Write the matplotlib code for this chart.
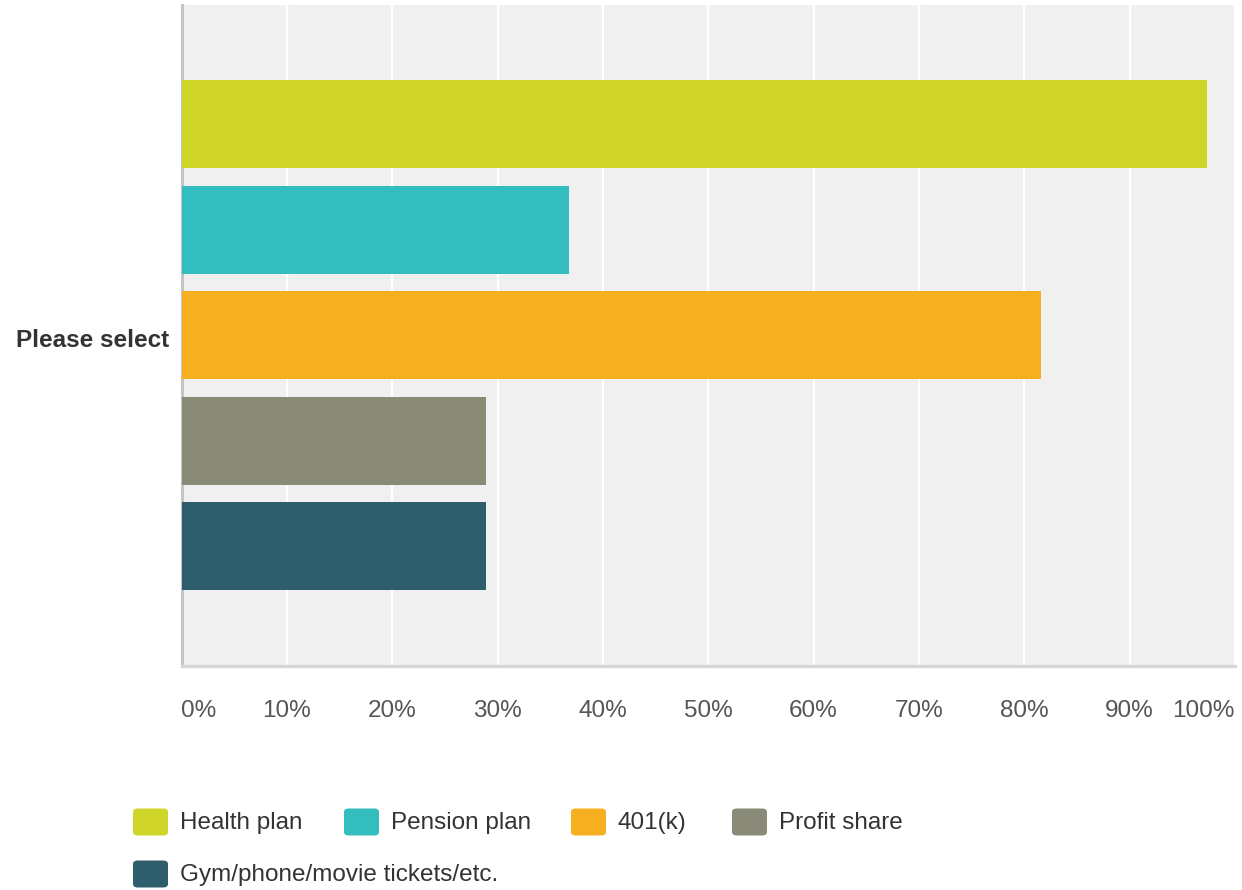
import matplotlib
matplotlib.use("Agg")
import matplotlib.pyplot as plt
from matplotlib.patches import FancyBboxPatch

# ---- data ----
categories = ["Please select"]
series_names = ["Health plan", "Pension plan", "401(k)", "Profit share",
                "Gym/phone/movie tickets/etc."]
series_values = [97.3, 36.8, 81.6, 28.9, 28.9]
series_colors = ["#CFD629", "#33BDBE", "#F6AF1F", "#898A78", "#2E5E6B"]
x_ticks = [0, 10, 20, 30, 40, 50, 60, 70, 80, 90, 100]
x_tick_labels = ["0%", "10%", "20%", "30%", "40%", "50%", "60%", "70%",
                 "80%", "90%", "100%"]

plt.rcParams['font.family'] = ['Liberation Sans', 'DejaVu Sans']

W, H = 1242, 890
fig = plt.figure(figsize=(W / 100, H / 100), dpi=100)
fig.patch.set_facecolor("white")

left_px, right_px, top_px, bottom_px = 181.5, 1235.0, 5.0, 665.5
ax = fig.add_axes([left_px / W, 1 - bottom_px / H,
                   (right_px - left_px) / W, (bottom_px - top_px) / H])
ax.set_facecolor("#F0F0F0")

n = len(series_names)
pitch = 1.0
bar_h = 0.833
for ci, cat in enumerate(categories):
    for i, (name, val, col) in enumerate(zip(series_names, series_values, series_colors)):
        y = ci * 10 + (i - (n - 1) / 2) * pitch
        ax.barh(y, val, height=bar_h, color=col, zorder=3, linewidth=0)

half = (n - 1) / 2 * pitch + bar_h / 2
margin = 0.711
ax.set_ylim(half + margin, -half - margin)
ax.set_xlim(0, 100)

ax.set_xticks(x_ticks)
ax.set_xticklabels(x_tick_labels)
ax.xaxis.grid(True, color="white", linewidth=1.6, zorder=1)
ax.set_axisbelow(True)
ax.tick_params(axis="x", length=0, pad=25, labelsize=17.5, labelcolor="#555555")
labels = ax.get_xticklabels()
labels[0].set_horizontalalignment("left")
labels[-1].set_horizontalalignment("right")

ax.set_yticks([ci * 10 + 0.03 for ci in range(len(categories))])
ax.set_yticklabels(categories)
ax.tick_params(axis="y", length=0, pad=9, labelsize=17.5, labelcolor="#333333")
for t in ax.get_yticklabels():
    t.set_fontweight("bold")

for s in ["top", "right"]:
    ax.spines[s].set_visible(False)
ax.spines["left"].set_color("#C4C4C4")
ax.spines["left"].set_linewidth(2.2)
ax.spines["bottom"].set_color("#D6D6D6")
ax.spines["bottom"].set_linewidth(2.4)

# ---- legend (flow layout) ----
def px2fig(x, y):
    return x / W, 1 - y / H

legend_pos = [(133, 822), (344, 822), (571, 822), (732, 822), (133, 874)]
pw, ph = 35, 27
for (x, yc), name, col in zip(legend_pos, series_names, series_colors):
    fx, fy = px2fig(x, yc + ph / 2)
    patch = FancyBboxPatch((fx, fy), pw / W, ph / H,
                           boxstyle="round,pad=0,rounding_size=0.004",
                           transform=fig.transFigure, facecolor=col,
                           edgecolor="none")
    fig.patches.append(patch)
    tx, ty = px2fig(x + pw + 12, yc + 1)
    fig.text(tx, ty, name, ha="left", va="center", fontsize=17.5, color="#333333")

fig.savefig("out.png", dpi=100)
